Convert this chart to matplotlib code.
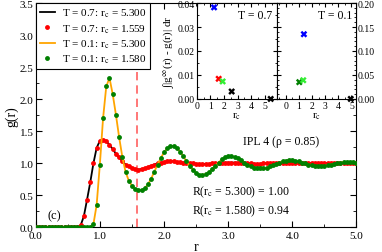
import numpy as np
import matplotlib
matplotlib.use("Agg")
import matplotlib.pyplot as plt
from matplotlib.ticker import MultipleLocator, FormatStrFormatter

plt.rcParams["font.family"] = ["Liberation Serif", "DejaVu Serif"]
plt.rcParams["mathtext.fontset"] = "stix"

# ---- data ----------------------------------------------------------------
r = np.round(np.arange(0, 101) * 0.05, 2)          # sampling grid of g(r), 0..5

# T = 0.7, r_c = 1.559 (red dots)
g_t07_cut = [0.00] * 13 + [
    0.00, 0.03, 0.17, 0.43, 0.70, 1.00, 1.24, 1.35, 1.37, 1.34,
    1.29, 1.22, 1.15, 1.09, 1.03, 0.98, 0.95, 0.92, 0.91, 0.90,
    0.91, 0.92, 0.94, 0.96, 0.98, 1.00, 1.01, 1.02, 1.03, 1.03,
    1.03, 1.02, 1.02, 1.01, 1.01, 1.00, 1.00, 0.99,
    0.99, 0.99, 0.99, 0.99, 1.00, 1.00, 1.00, 1.00, 1.01, 1.01,
    1.01, 1.01, 1.01, 1.00, 1.00, 1.00, 1.00, 0.99, 0.99, 0.99,
] + [1.00] * 30
# T = 0.7, r_c = 5.300 (black line) -- indistinguishable from the dots here
g_t07_full = list(g_t07_cut)

# T = 0.1, r_c = 1.580 (green dots)
g_t01_cut = [0.00] * 17 + [
    0.00, 0.05, 0.35, 0.98, 1.70, 2.20, 2.33, 2.08, 1.76, 1.41,
    1.10, 0.87, 0.73, 0.65, 0.60, 0.58, 0.58, 0.61, 0.67, 0.76,
    0.87, 0.98, 1.08, 1.17, 1.23, 1.27, 1.27, 1.24, 1.18, 1.11,
    1.03, 0.96, 0.90, 0.85,
    0.82, 0.82, 0.83, 0.86, 0.91, 0.96, 1.01, 1.06, 1.09, 1.11,
    1.11, 1.10, 1.08, 1.05, 1.01, 0.98, 0.95, 0.93, 0.92, 0.92,
    0.92, 0.93, 0.95, 0.97, 0.99, 1.01, 1.03, 1.04, 1.05, 1.05,
    1.04, 1.03, 1.01, 1.00, 0.98, 0.97, 0.96, 0.96, 0.96, 0.96,
    0.97, 0.98, 0.99, 1.00, 1.01, 1.02, 1.02, 1.02, 1.02, 1.01,
]
# T = 0.1, r_c = 5.300 (orange line)
g_t01_full = list(g_t01_cut)

labels = [r"T = 0.7: r$_\mathrm{c}$ = 5.300", r"T = 0.7: r$_\mathrm{c}$ = 1.559",
          r"T = 0.1: r$_\mathrm{c}$ = 5.300", r"T = 0.1: r$_\mathrm{c}$ = 1.580"]
rc_cut = 1.58

# insets: integrated deviation vs cutoff
rc_t07 = [1.27, 1.61, 1.90, 2.56, 5.42]
dev_t07 = [0.0382, 0.0084, 0.0073, 0.0031, 0.0]
col_t07 = ["blue", "red", "#33ee33", "black", "black"]
rc_t01 = [1.38, 1.03, 1.33, 4.95]
dev_t01 = [0.135, 0.035, 0.039, 0.0]
col_t01 = ["blue", "green", "#33ee33", "black"]

# ---- figure ---------------------------------------------------------------
fig = plt.figure(figsize=(3.82, 2.53), dpi=100)
ax = fig.add_axes([0.0935, 0.0976, 0.8395, 0.8864])

ax.plot(r, g_t07_full, color="black", lw=1.3, label=labels[0], zorder=2)
ax.plot(r, g_t07_cut, "o", color="red", ms=3.5, mew=0, label=labels[1], zorder=3)
ax.plot(r, g_t01_full, color="orange", lw=1.3, label=labels[2], zorder=4)
ax.plot(r, g_t01_cut, "o", color="green", ms=3.5, mew=0, label=labels[3], zorder=5)
ax.axvline(rc_cut, color="#ff6060", lw=1.2, dashes=(5, 3), zorder=1)

ax.set_xlim(0, 5)
ax.set_ylim(0, 3.5)
ax.xaxis.set_major_locator(MultipleLocator(1))
ax.xaxis.set_minor_locator(MultipleLocator(0.5))
ax.yaxis.set_major_locator(MultipleLocator(0.5))
ax.yaxis.set_minor_locator(MultipleLocator(0.25))
ax.xaxis.set_major_formatter(FormatStrFormatter("%.1f"))
ax.yaxis.set_major_formatter(FormatStrFormatter("%.1f"))
ax.tick_params(which="both", direction="in", top=True, right=True, labelsize=8, pad=1.5)
ax.tick_params(axis="x", pad=2.5)
ax.tick_params(which="major", length=4)
ax.tick_params(which="minor", length=2)
ax.set_xlabel("r", fontsize=10, labelpad=0)
ax.set_ylabel("g(r)", fontsize=10, labelpad=1)

leg = ax.legend(loc="upper left", fontsize=8, frameon=True, fancybox=False,
                edgecolor="black", framealpha=1, borderaxespad=0, handlelength=1.4,
                handletextpad=0.6, labelspacing=0.25, borderpad=0.35, numpoints=1)
leg.get_frame().set_linewidth(0.8)

ax.text(0.29, 0.18, "(c)", fontsize=9, ha="center", va="center")
ax.text(3.83, 1.34, "IPL 4 (ρ = 0.85)", fontsize=8.5, ha="center", va="center")
ax.text(2.43, 0.56, r"R(r$_\mathrm{c}$ = 5.300) = 1.00", fontsize=8.5, ha="left", va="center")
ax.text(2.43, 0.27, r"R(r$_\mathrm{c}$ = 1.580) = 0.94", fontsize=8.5, ha="left", va="center")

# inset T = 0.7
a1 = fig.add_axes([0.515, 0.605, 0.209, 0.379])
a1.scatter(rc_t07, dev_t07, c=col_t07, marker="X", s=24, linewidths=0, zorder=3, clip_on=False)
a1.set_xlim(0, 5.85)
a1.set_ylim(0, 0.04)
a1.xaxis.set_major_locator(MultipleLocator(1))
a1.xaxis.set_minor_locator(MultipleLocator(0.5))
a1.yaxis.set_major_locator(MultipleLocator(0.01))
a1.yaxis.set_minor_locator(MultipleLocator(0.005))
a1.yaxis.set_major_formatter(FormatStrFormatter("%.2f"))
a1.tick_params(which="both", direction="in", top=True, right=True, labelsize=7, pad=1.5)
a1.tick_params(which="major", length=3)
a1.tick_params(which="minor", length=1.5)
a1.set_xlabel(r"r$_\mathrm{c}$", fontsize=8, labelpad=0)
a1.set_ylabel(r"∫|g$^{\infty}$(r) - g(r)| dr", fontsize=8, labelpad=1)
a1.text(0.95, 0.88, "T = 0.7", transform=a1.transAxes, ha="right", va="center", fontsize=8.5)

# inset T = 0.1
a2 = fig.add_axes([0.724, 0.605, 0.208, 0.379])
a2.scatter(rc_t01, dev_t01, c=col_t01, marker="X", s=24, linewidths=0, zorder=3, clip_on=False)
a2.set_xlim(-0.7, 5.35)
a2.set_ylim(0, 0.2)
a2.xaxis.set_major_locator(MultipleLocator(1))
a2.xaxis.set_minor_locator(MultipleLocator(0.5))
a2.yaxis.set_major_locator(MultipleLocator(0.05))
a2.yaxis.set_minor_locator(MultipleLocator(0.01))
a2.yaxis.set_major_formatter(FormatStrFormatter("%.2f"))
a2.yaxis.tick_right()
a2.tick_params(which="both", direction="in", top=True, left=True, right=True,
               labelleft=False, labelright=True, labelsize=7, pad=1.5)
a2.tick_params(which="major", length=3)
a2.tick_params(which="minor", length=1.5)
a2.set_xlabel(r"r$_\mathrm{c}$", fontsize=8, labelpad=0)
a2.text(0.95, 0.88, "T = 0.1", transform=a2.transAxes, ha="right", va="center", fontsize=8.5)

fig.savefig("out.png", dpi=100)
